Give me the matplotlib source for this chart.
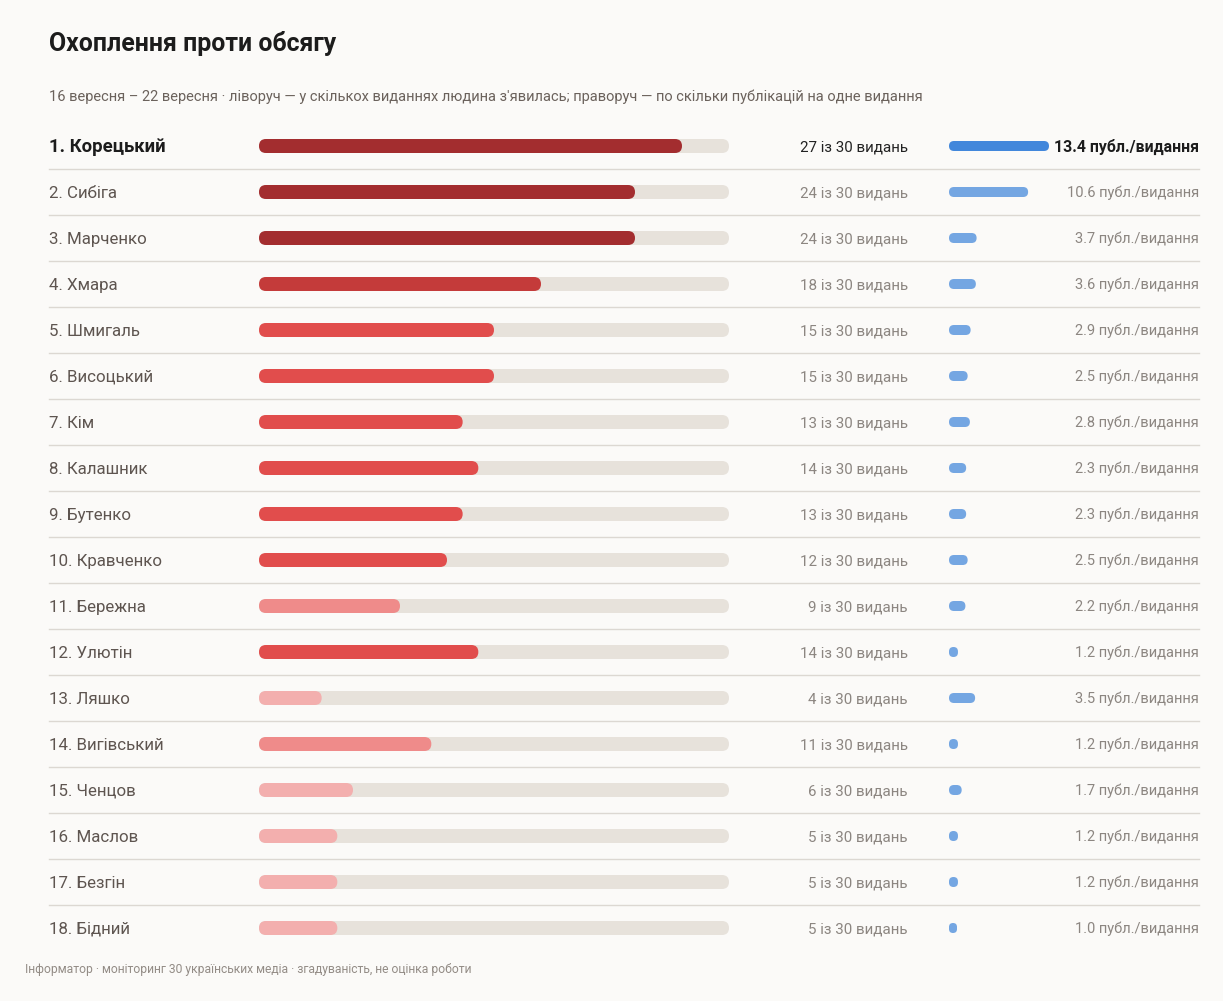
"""Охоплення проти обсягу: два ряди смуг на рядок."""

import matplotlib

matplotlib.use("Agg")
import matplotlib.pyplot as plt
from matplotlib.patches import FancyBboxPatch

plt.rcParams["font.family"] = ["Roboto", "DejaVu Sans"]

names = ["Корецький", "Сибіга", "Марченко", "Хмара", "Шмигаль", "Висоцький", "Кім",
         "Калашник", "Бутенко", "Кравченко", "Бережна", "Улютін", "Ляшко", "Вигівський",
         "Ченцов", "Маслов", "Безгін", "Бідний"]
outlets = [27, 24, 24, 18, 15, 15, 13, 14, 13, 12, 9, 14, 4, 11, 6, 5, 5, 5]
per_outlet = [13.4, 10.6, 3.7, 3.6, 2.9, 2.5, 2.8, 2.3, 2.3, 2.5, 2.2, 1.2, 3.5, 1.2,
              1.7, 1.2, 1.2, 1.0]
total_outlets = 30

W, H = 1223, 1001
BG = "#fbfaf8"

fig = plt.figure(figsize=(W / 100, H / 100), dpi=100, facecolor=BG)
ax = fig.add_axes([0, 0, 1, 1])
ax.set_xlim(0, W)
ax.set_ylim(H, 0)
ax.axis("off")


def cov_color(n):
    r = n / total_outlets
    if r >= 0.8:
        return "#a32d2f"
    if r >= 0.6:
        return "#c43b3a"
    if r >= 0.4:
        return "#e14d4c"
    if r >= 0.3:
        return "#ef8b8a"
    return "#f3afae"


def pill(x, y, w, h, color):
    w = max(w, h * 0.8)
    ax.add_patch(FancyBboxPatch((x, y - h / 2), w, h,
                                boxstyle=f"round,pad=0,rounding_size={min(h, w) / 2}",
                                fc=color, ec="none"))


ax.text(49, 44, "Охоплення проти обсягу", fontsize=17.9, fontweight="bold",
        color="#1c1c1c", va="center", ha="left")
ax.text(49, 97, "16 вересня – 22 вересня · ліворуч — у скількох виданнях людина з'явилась; "
        "праворуч — по скільки публікацій на одне видання",
        fontsize=10.5, color="#6b625c", va="center", ha="left")

row0, step = 146, 46
track_x, track_w = 259, 470
blue_x, blue_w = 949, 100
max_po = max(per_outlet)

for i, (name, n, po) in enumerate(zip(names, outlets, per_outlet)):
    y = row0 + i * step
    top = i == 0
    ax.text(49, y + 1.5, f"{i + 1}. {name}", fontsize=13.3 if top else 12.2,
            fontweight="bold" if top else "normal",
            color="#1c1c1c" if top else "#5e5550", va="center", ha="left")
    pill(track_x, y, track_w, 14, "#e7e2db")
    pill(track_x, y, track_w * n / total_outlets, 14, cov_color(n))
    ax.text(908, y + 1, f"{n} із {total_outlets} видань", fontsize=10.9,
            color="#222222" if top else "#8c8681", va="center", ha="right")
    pill(blue_x, y, blue_w * po / max_po, 10, "#4287db" if top else "#74a6e2")
    ax.text(1199, y + 1, f"{po:.1f} публ./видання", fontsize=11.4 if top else 10.5,
            fontweight="bold" if top else "normal",
            color="#1c1c1c" if top else "#8c8681", va="center", ha="right")
    if i < len(names) - 1:
        ax.plot([49, 1199], [y + step / 2, y + step / 2], color="#dcd8d2", lw=1)

ax.text(25, 969, "Інформатор · моніторинг 30 українських медіа · згадуваність, не оцінка роботи",
        fontsize=8.75, color="#938c86", va="center", ha="left")

fig.savefig("out.png", dpi=100, facecolor=BG)
